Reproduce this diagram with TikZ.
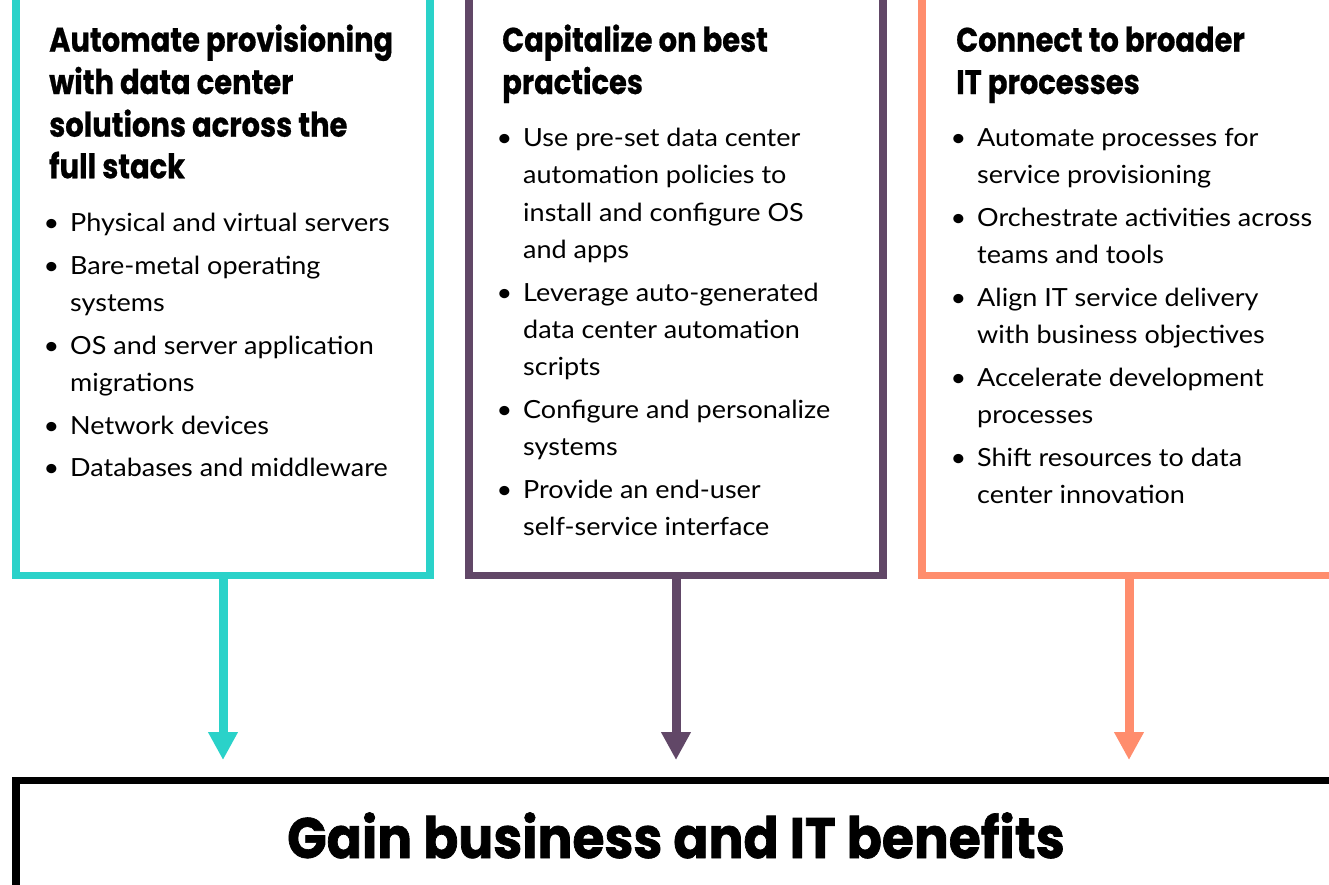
\documentclass[tikz,border=0pt]{standalone}
\usepackage{fontspec}
\setmainfont{Lato}[FakeStretch=1.08]
\newfontfamily\headfont{Poppins}[FakeStretch=0.85,FakeBold=0.6]
\newfontfamily\titlefont{Poppins}[FakeStretch=0.91,FakeBold=1.2]
\usetikzlibrary{arrows.meta,calc}
\definecolor{hpeteal}{HTML}{2AD2C9}
\definecolor{hpepurple}{HTML}{614767}
\definecolor{hpeorange}{HTML}{FF8D6D}
\newcommand{\bul}{\llap{•\hspace{11pt}}}
\begin{document}
\begin{tikzpicture}[x=1pt,y=-1pt,
  panel/.style={draw=#1, line width=7.5pt, minimum width=414pt, minimum height=700pt, anchor=south, inner sep=0pt, outer sep=0pt},
  conn/.style={draw=#1, line width=9pt, -{Triangle[width=28pt,length=28pt]}},
  head/.style={anchor=base west, inner sep=0pt, font=\headfont\bfseries\fontsize{34}{40}\selectfont},
  body/.style={anchor=base west, inner sep=0pt, font=\fontsize{25}{30}\selectfont},
  titletext/.style={anchor=base, inner sep=0pt, font=\titlefont\bfseries\fontsize{57}{64}\selectfont},
]
\clip (0,0) rectangle (1329,884);
\fill[white] (0,0) rectangle (1329,884);
% panels
\node[panel=hpeteal] (p1) at (223,575.5) {};
\node[panel=hpepurple] (p2) at (676,575.5) {};
\node[panel=hpeorange] (p3) at (1129,575.5) {};
\node[draw=black, line width=7.5pt, minimum width=1320pt, minimum height=300pt, anchor=north, inner sep=0pt, outer sep=0pt] (gain) at (676,780.5) {};
\node[titletext] (gt) at (676,858) {Gain business and IT benefits};
% connectors
\draw[conn=hpeteal] (p1.south) -- ([yshift=20.5pt]p1.south |- gain.north);
\draw[conn=hpepurple] (p2.south) -- ([yshift=20.5pt]p2.south |- gain.north);
\draw[conn=hpeorange] (p3.south) -- ([yshift=20.5pt]p3.south |- gain.north);
% column 1
\node[head] (h11) at (49,51.7) {Automate provisioning};
\node[head] (h12) at (49,94) {with data center};
\node[head] (h13) at (49,136.7) {solutions across the};
\node[head] (h14) at (49,178.3) {full stack};
\node[body] (a1) at (70,231) {\bul Physical and virtual servers};
\node[body] (a2) at (70,274) {\bul Bare-metal operating};
\node[body] (a3) at (70,311) {systems};
\node[body] (a4) at (70,354) {\bul OS and server application};
\node[body] (a5) at (70,391) {migrations};
\node[body] (a6) at (70,434) {\bul Network devices};
\node[body] (a7) at (70,476) {\bul Databases and middleware};
% column 2
\node[head] (h21) at (502,51.7) {Capitalize on best};
\node[head] (h22) at (502,94) {practices};
\node[body] (b1) at (523,146) {\bul Use pre-set data center};
\node[body] (b2) at (523,183) {automation policies to};
\node[body] (b3) at (523,221) {install and configure OS};
\node[body] (b4) at (523,258) {and apps};
\node[body] (b5) at (523,301) {\bul Leverage auto-generated};
\node[body] (b6) at (523,338) {data center automation};
\node[body] (b7) at (523,375) {scripts};
\node[body] (b8) at (523,418) {\bul Configure and personalize};
\node[body] (b9) at (523,455) {systems};
\node[body] (b10) at (523,498) {\bul Provide an end-user};
\node[body] (b11) at (523,535) {self-service interface};
% column 3
\node[head] (h31) at (956,51.7) {Connect to broader};
\node[head] (h32) at (956,94) {IT processes};
\node[body] (c1) at (977,146) {\bul Automate processes for};
\node[body] (c2) at (977,183) {service provisioning};
\node[body] (c3) at (977,226) {\bul Orchestrate activities across};
\node[body] (c4) at (977,263) {teams and tools};
\node[body] (c5) at (977,306) {\bul Align IT service delivery};
\node[body] (c6) at (977,343) {with business objectives};
\node[body] (c7) at (977,386) {\bul Accelerate development};
\node[body] (c8) at (977,423) {processes};
\node[body] (c9) at (977,466) {\bul Shift resources to data};
\node[body] (c10) at (977,503) {center innovation};
\end{tikzpicture}
\end{document}
